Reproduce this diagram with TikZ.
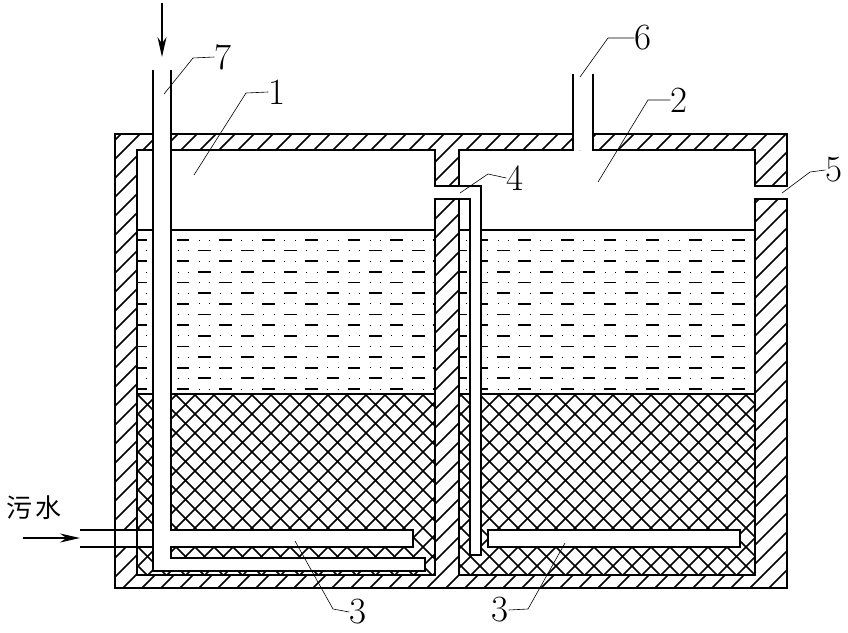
\documentclass[tikz,border=0pt]{standalone}
\usepackage{fontspec}
\newfontfamily\cjk{Noto Sans CJK SC}
\usetikzlibrary{arrows.meta}
\tikzset{
  wall/.style={line width=1.8pt,line join=miter},
  hatchline/.style={line width=1.5pt},
  leader/.style={line width=0.6pt},
  numlabel/.style={inner sep=0pt,font=\fontsize{37}{37}\selectfont},
  flowarrow/.style={line width=1.4pt,-{Stealth[length=20pt,width=9pt]}}
}
\begin{document}
\begin{tikzpicture}[x=1pt,y=-1pt]
  \useasboundingbox (0,0) rectangle (848,632);
  % water
  \begin{scope}
    \clip (137,230) rectangle (435,394) (459,230) rectangle (755,394);
    \foreach \r in {0,...,14}{
      \pgfmathsetmacro{\rowy}{240+10.64*\r}
      \pgfmathsetmacro{\rowx}{134-21*mod(\r,2)}
      \draw [line width=1.7pt,dash pattern=on 12.7pt off 30pt] (\rowx,\rowy) -- (800,\rowy);
      \draw [line width=0.8pt,dash pattern=on 1pt off 9.7pt on 1pt off 31pt] (\rowx+22,\rowy) -- (800,\rowy);
    }
  \end{scope}
  % media
  \begin{scope}
    \clip (137,394) rectangle (435,575) (459,394) rectangle (755,575);
    \foreach \c in {0,19,...,1400}{
      \draw [hatchline] (\c+134,380) -- ++(-300,300);
      \draw [hatchline] (\c-295,380) -- ++(300,300);
    }
  \end{scope}
  % walls
  \begin{scope}
    \clip (115,134) rectangle (787,150) (115,134) rectangle (137,588)
      (115,575) rectangle (787,588) (755,134) rectangle (787,186)
      (755,199) rectangle (787,588) (435,134) rectangle (459,186)
      (435,199) rectangle (459,588);
    \foreach \c in {255,274,...,1396}{
      \draw [hatchline] (\c,0) -- ++(-700,700);
    }
  \end{scope}
  \fill [white] (573,134) rectangle (593,150);
  \fill [white] (115,530) rectangle (153,547);
  \fill [white] (470,199) rectangle (481,555);
  % tank outline
  \draw [wall] (573,74) -- (573,150) -- (459,150) -- (459,186);
  \draw [wall] (435,150) -- (435,186) -- (481,186) -- (481,555) -- (470,555) -- (470,199) -- (435,199) -- (435,575) -- (137,575) -- (137,150) -- cycle;
  \draw [wall] (459,199) -- (459,575) -- (755,575) -- (755,199) -- (787,199) -- (787,588) -- (115,588) -- (115,134) -- (573,134);
  \draw [wall] (593,74) -- (593,150) -- (755,150) -- (755,186) -- (787,186) -- (787,134) -- (593,134);
  \draw [wall] (137,230) -- (435,230) (459,230) -- (470,230) (481,230) -- (755,230);
  \draw [wall] (137,394) -- (435,394) (459,394) -- (470,394) (481,394) -- (755,394);
  % pipes
  \fill [white] (153,70) rectangle (171,571) (153,558) rectangle (425,571) (171,530) rectangle (413,547);
  \fill [white] (488,530) rectangle (740,547);
  \draw [wall] (171,70) -- (171,530) -- (413,530) -- (413,547) -- (171,547) -- (171,558) -- (425,558) -- (425,571) -- (153,571) -- (153,70);
  \draw [wall] (488,530) rectangle (740,547);
  \draw [wall] (80,530) -- (153,530) (80,547) -- (153,547);
  % flow
  \coordinate (infrom) at (23,538);
  \coordinate (into) at (80,538);
  \coordinate (topfrom) at (162,3);
  \coordinate (topto) at (162,57);
  \draw [flowarrow] (infrom) -- (into);
  \draw [flowarrow] (topfrom) -- (topto);
  \node [inner sep=0pt,font=\cjk\fontsize{26}{26}\selectfont] (sewage) at (34,508) {污\kern4pt 水};
  % labels
  \node [numlabel] (n1) at (277,92) {1};
  \node [numlabel] (n2) at (679,100) {2};
  \node [numlabel] (n3a) at (358,612) {3};
  \node [numlabel] (n3b) at (500,610) {3};
  \node [numlabel] (n4) at (515,178) {4};
  \node [numlabel] (n5) at (834,170) {5};
  \node [numlabel] (n6) at (643,38) {6};
  \node [numlabel] (n7) at (223,57) {7};
  \coordinate (p1) at (194,175);
  \coordinate (p2) at (598,182);
  \coordinate (p3a) at (295,541);
  \coordinate (p3b) at (565,543);
  \coordinate (p4) at (460,193);
  \coordinate (p5) at (782,193);
  \coordinate (p6) at (580,77);
  \coordinate (p7) at (164,94);
  \draw [leader] (p1) -- (246,93) -- (n1.west);
  \draw [leader] (p2) -- (648,100) -- (n2.west);
  \draw [leader] (p3a) -- (333,609) -- (n3a.west);
  \draw [leader] (p3b) -- (528,609) -- (n3b.east);
  \draw [leader] (p4) -- (488,174) -- (n4.west);
  \draw [leader] (p5) -- (810,172) -- (n5.west);
  \draw [leader] (p6) -- (608,38) -- (n6.west);
  \draw [leader] (p7) -- (193,58) -- (n7.west);
\end{tikzpicture}
\end{document}
